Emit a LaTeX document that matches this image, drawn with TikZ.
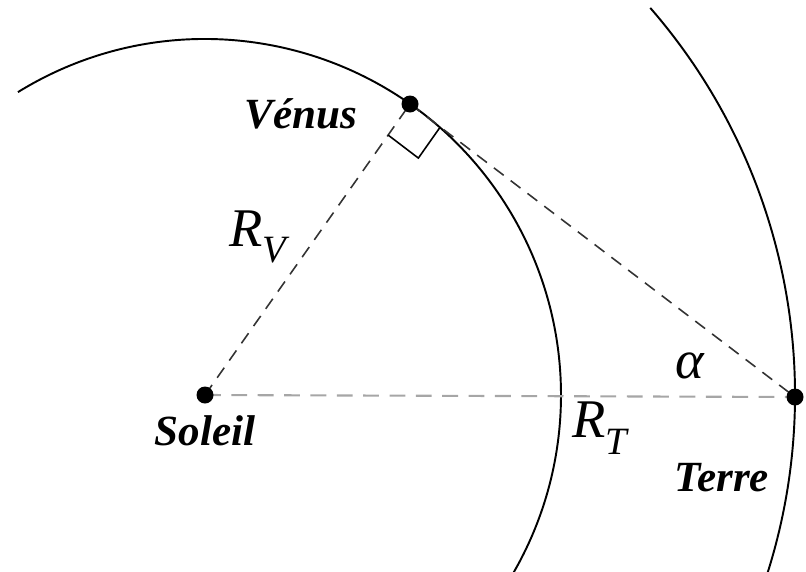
\documentclass[tikz,border=0pt]{standalone}
\usepackage{fontspec}
\setmainfont{Liberation Serif}
\usetikzlibrary{calc, positioning}

\begin{document}
\begin{tikzpicture}[
    orbit/.style={line width=1.1pt}, % Style for the orbits
    radius/.style={dash pattern=on 7pt off 5pt, line width=0.9pt, black!80}, % Style for Sun-Venus and Venus-Earth lines
    base/.style={dash pattern=on 9pt off 6pt, line width=1.2pt, gray!70}, % Style for Sun-Earth line
    dot/.style={circle, fill, inner sep=0pt, minimum size=0.34cm}, % Style for the bodies
    planet/.style={font=\fontsize{24.5}{28}\selectfont\bfseries\itshape}, % Style for body names
    mathlabel/.style={font=\fontsize{31}{34}\selectfont\itshape} % Style for R and alpha
]
    % Picture frame
    \useasboundingbox (-4.1,-3.52) rectangle (12.02,7.9);
    \clip (-4.1,-3.52) rectangle (12.02,7.9);

    % Key points
    \coordinate (S) at (0,0);
    \coordinate (V) at (4.1,5.82);
    \coordinate (E) at (11.8,-0.04);
    \def\rv{7.12}
    \def\rt{11.8}

    % Orbits
    \draw[orbit] (S) ++(121.7:\rv) arc (121.7:-35:\rv);
    \draw[orbit] (S) ++(41:\rt) arc (41:-20:\rt);

    % Dashed lines
    \draw[radius] (S) -- (V);
    \draw[radius] (V) -- (E);
    \draw[base] (S) -- (E);

    % Right angle mark at Venus
    \coordinate (A) at ($(V)!0.76cm!(S)$);
    \coordinate (B) at ($(V)!0.76cm!(E)$);
    \draw[line width=0.9pt] (A) -- ($(A)+(B)-(V)$) -- (B);

    % Bodies
    \node[dot] (sun) at (S) {};
    \node[dot] (venus) at (V) {};
    \node[dot] (earth) at (E) {};

    % Labels
    \node[planet, below=0.12cm of sun] (soleil) {Soleil};
    \node[planet, left=0.75cm of venus, yshift=-0.2cm] (venuslabel) {Vénus};
    \node[planet] (terre) at (10.34,-1.66) {Terre};
    \node[mathlabel] (rv) at (1.06,3.16) {R\raisebox{-0.3em}{\fontsize{22}{24}\selectfont V}};
    \node[mathlabel] (rt) at (7.9,-0.66) {R\raisebox{-0.3em}{\fontsize{22}{24}\selectfont T}};
    \node[mathlabel] (alpha) at (9.7,0.58) {α};

\end{tikzpicture}
\end{document}
